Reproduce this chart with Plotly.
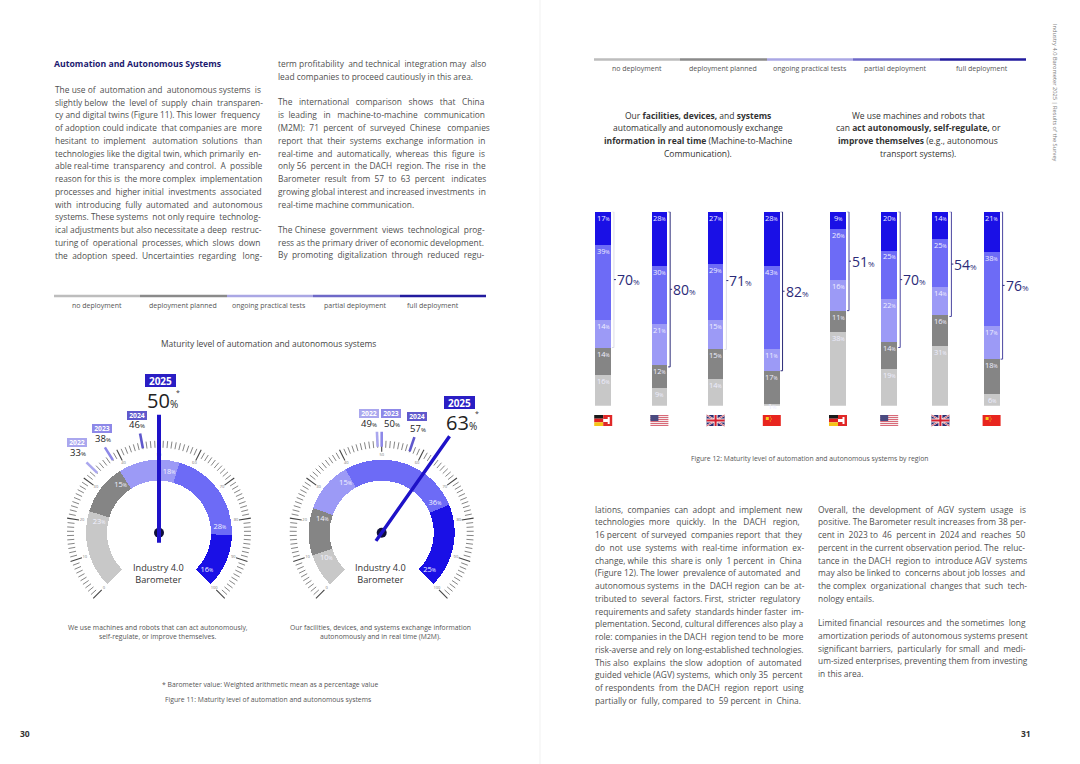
import plotly.graph_objects as go

# ---------- data ----------
REGIONS = ["DACH", "USA", "UK", "China"]
STATUS = ["no deployment", "deployment planned", "ongoing practical tests", "partial deployment", "full deployment"]

M2M_NONE = [16, 9, 14, 1]
M2M_PLANNED = [14, 12, 15, 17]
M2M_TESTS = [14, 21, 15, 11]
M2M_PARTIAL = [39, 30, 29, 43]
M2M_FULL = [17, 28, 27, 28]
M2M_USING = [70, 80, 71, 82]

AUTO_NONE = [38, 19, 31, 6]
AUTO_PLANNED = [11, 14, 16, 18]
AUTO_TESTS = [16, 22, 14, 17]
AUTO_PARTIAL = [26, 25, 25, 38]
AUTO_FULL = [9, 20, 14, 21]
AUTO_USING = [51, 70, 54, 76]

GAUGE_AUTO_SHARES = [23, 15, 18, 28, 16]
GAUGE_M2M_SHARES = [10, 14, 15, 36, 25]
YEARS = [2022, 2023, 2024, 2025]
GAUGE_AUTO_YEARS = [33, 38, 46, 50]
GAUGE_M2M_YEARS = [49, 50, 57, 63]

LEFT_A = [
    "The use of automation and autonomous systems is",
    "slightly below the level of supply chain transparen-",
    "cy and digital twins (Figure 11). This lower frequency",
    "of adoption could indicate that companies are more",
    "hesitant to implement automation solutions than",
    "technologies like the digital twin, which primarily en-",
    "able real-time transparency and control. A possible",
    "reason for this is the more complex implementation",
    "processes and higher initial investments associated",
    "with introducing fully automated and autonomous",
    "systems. These systems not only require technolog-",
    "ical adjustments but also necessitate a deep restruc-",
    "turing of operational processes, which slows down",
    "the adoption speed. Uncertainties regarding long-",
]
LEFT_B1 = [
    "term profitability and technical integration may also",
    "lead companies to proceed cautiously in this area.",
]
LEFT_B2 = [
    "The international comparison shows that China",
    "is leading in machine-to-machine communication",
    "(M2M): 71 percent of surveyed Chinese companies",
    "report that their systems exchange information in",
    "real-time and automatically, whereas this figure is",
    "only 56 percent in the DACH region. The rise in the",
    "Barometer result from 57 to 63 percent indicates",
    "growing global interest and increased investments in",
    "real-time machine communication.",
]
LEFT_B3 = [
    "The Chinese government views technological prog-",
    "ress as the primary driver of economic development.",
    "By promoting digitalization through reduced regu-",
]
RIGHT_A = [
    "lations, companies can adopt and implement new",
    "technologies more quickly. In the DACH region,",
    "16 percent of surveyed companies report that they",
    "do not use systems with real-time information ex-",
    "change, while this share is only 1 percent in China",
    "(Figure 12). The lower prevalence of automated and",
    "autonomous systems in the DACH region can be at-",
    "tributed to several factors. First, stricter regulatory",
    "requirements and safety standards hinder faster im-",
    "plementation. Second, cultural differences also play a",
    "role: companies in the DACH region tend to be more",
    "risk-averse and rely on long-established technologies.",
    "This also explains the slow adoption of automated",
    "guided vehicle (AGV) systems, which only 35 percent",
    "of respondents from the DACH region report using",
    "partially or fully, compared to 59 percent in China.",
]
RIGHT_B1 = [
    "Overall, the development of AGV system usage is",
    "positive. The Barometer result increases from 38 per-",
    "cent in 2023 to 46 percent in 2024 and reaches 50",
    "percent in the current observation period. The reluc-",
    "tance in the DACH region to introduce AGV systems",
    "may also be linked to concerns about job losses and",
    "the complex organizational changes that such tech-",
    "nology entails.",
]
RIGHT_B2 = [
    "Limited financial resources and the sometimes long",
    "amortization periods of autonomous systems present",
    "significant barriers, particularly for small and medi-",
    "um-sized enterprises, preventing them from investing",
    "in this area.",
]

# ---------- styles ----------
W, H = 1080, 764
FONT = "Open Sans"
SEG = ["#c8c8c8", "#858585", "#9c9af6", "#6d6bf6", "#1a10e6"]
RULE = ["#bdbdbd", "#8a8a8a", "#aaa7e4", "#6e69c8", "#221b9e"]
YEAR_COL = ["#aaa7ee", "#8d88e8", "#5f58cc", "#2a1ec4"]
NAVY = "#2b2a78"
BODY = "#505050"
BODY_SIZE = 8.4

CW = dict(zip("abcdefghijklmnopqrstuvwxyz",
              [.556, .613, .476, .613, .561, .339, .548, .613, .253, .253, .525, .253, .930,
               .613, .604, .613, .613, .408, .477, .353, .613, .501, .778, .524, .504, .468]))


def text_w(s, size):
    t = 0
    for c in s:
        if c in CW:
            t += CW[c]
        elif c == " ":
            t += .26
        elif c.isdigit():
            t += .572
        elif c.isupper():
            t += .65
        elif c in "-(),.:":
            t += .3
        else:
            t += .5
    return t * size


def justify(s, width, size):
    words = s.split(" ")
    gaps = len(words) - 1
    extra = width - text_w(s, size)
    n = int(round(max(extra, 0) / (.26 * size)))
    out = words[0]
    for i, w in enumerate(words[1:]):
        k = (n * (i + 1)) // gaps - (n * i) // gaps
        out += " " + "\u00a0" * k + w
    return out


def px(x):
    return x / W


def py(y):
    return 1 - y / H


def pct(v, small):
    return f'{v}<span style="font-size:{small}px">%</span>'


annos = []
shapes = []


def note(x, y, text, size=8, color=BODY, xa="center", ya="middle", **kw):
    annos.append(dict(x=px(x), y=py(y), xref="paper", yref="paper", text=text, showarrow=False,
                      xanchor=xa, yanchor=ya, font=dict(family=FONT, size=size, color=color),
                      borderpad=0, borderwidth=0, **kw))


def rect(x0, y0, x1, y1, color):
    shapes.append(dict(type="rect", xref="paper", yref="paper", x0=px(x0), x1=px(x1),
                       y0=py(y0), y1=py(y1), fillcolor=color, line=dict(width=0)))


def seg(x0, y0, x1, y1, color, w):
    shapes.append(dict(type="line", xref="paper", yref="paper", x0=px(x0), x1=px(x1),
                       y0=py(y0), y1=py(y1), line=dict(color=color, width=w)))


def column(lines, x0, x1, y0, last_free=False):
    for i, s in enumerate(lines):
        free = last_free and i == len(lines) - 1
        t = s if free else justify(s, x1 - x0, BODY_SIZE)
        note(x0, y0 + i * 12.75, t, size=BODY_SIZE, xa="left")


fig = go.Figure()

# ---------- page ----------
rect(539, 0, 541, H, "#f8f8f8")
note(54, 64, "<b>Automation and Autonomous Systems</b>", size=8.7, color="#1c1a70", xa="left")
column(LEFT_A, 54.5, 262, 89.3)
column(LEFT_B1, 278, 486, 64, True)
column(LEFT_B2, 278, 486, 102, True)
column(LEFT_B3, 278, 486, 229.3)
column(RIGHT_A, 594.5, 803, 509)
column(RIGHT_B1, 817.5, 1026, 509, True)
column(RIGHT_B2, 817.5, 1026, 622.7, True)
note(25, 733, "<b>30</b>", size=8.5, color="#333")
note(1026, 733, "<b>31</b>", size=8.5, color="#333")
note(1055, 93, "Industry 4.0 Barometer 2025 | Results of the Survey", size=5.7, color="#777", textangle=90)

# ---------- status rules ----------
for edges, yrule, ylab, cents in [
    ([54, 140, 227, 313, 400, 486], 296, 305, [97, 183, 269, 355, 433]),
    ([594, 680, 767, 853, 940, 1026], 59.5, 68, [637, 723, 810, 895, 982]),
]:
    for i, name in enumerate(STATUS):
        rect(edges[i], yrule - 1.2, edges[i + 1], yrule + 1.2, RULE[i])
        note(cents[i], ylab, name, size=7, color="#555")

note(268, 343, "Maturity level of automation and autonomous systems", size=8.45, color="#444")

# ---------- headings of right page ----------
HEAD_A = ["Our <b>facilities, devices,</b> and <b>systems</b>", "automatically and autonomously exchange",
          "<b>information in real time</b> (Machine-to-Machine", "Communication)."]
HEAD_B = ["We use machines and robots that", "can <b>act autonomously, self-regulate,</b> or",
          "<b>improve themselves</b> (e.g., autonomous", "transport systems)."]
for cx, lines in [(698, HEAD_A), (918, HEAD_B)]:
    for i, s in enumerate(lines):
        note(cx, 115 + i * 12.7, s, size=8.5, color="#333")

# ---------- captions ----------
note(158, 627, "We use machines and robots that can act autonomously,", size=6.8, color="#555")
note(158, 636, "self-regulate, or improve themselves.", size=6.8, color="#555")
note(380, 627, "Our facilities, devices, and systems exchange information", size=6.8, color="#555")
note(380, 636, "autonomously and in real time (M2M).", size=6.8, color="#555")
note(270, 684, "* Barometer value: Weighted arithmetic mean as a percentage value", size=6.8, color="#555")
note(268, 699, "Figure 11: Maturity level of automation and autonomous systems", size=6.8, color="#555")
note(810, 458, "Figure 12: Maturity level of automation and autonomous systems by region", size=6.8, color="#555")

# ---------- stacked bars ----------
BAR_TOP, BAR_BOTTOM = 211.7, 405.7
groups = [
    dict(ax="x2", c0=603.2, step=56.2, bw=15.5,
         vals=[M2M_NONE, M2M_PLANNED, M2M_TESTS, M2M_PARTIAL, M2M_FULL], using=M2M_USING,
         br=["#dcdce8", NAVY, "#dcdce8", NAVY]),
    dict(ax="x3", c0=838.0, step=51.2, bw=16,
         vals=[AUTO_NONE, AUTO_PLANNED, AUTO_TESTS, AUTO_PARTIAL, AUTO_FULL], using=AUTO_USING,
         br=["#4a46a0", "#4a46a0", "#4a46a0", "#4a46a0"]),
]
for g in groups:
    xs = list(range(len(REGIONS)))
    w = g["bw"] / g["step"]
    for i, name in enumerate(STATUS):
        fig.add_trace(go.Bar(x=xs, y=g["vals"][i], width=w, name=name, marker=dict(color=SEG[i], line=dict(width=0)),
                             xaxis=g["ax"], yaxis="y2", showlegend=False, hovertext=REGIONS))
    for k, region in enumerate(REGIONS):
        top = 0
        for i in range(len(STATUS)):
            v = g["vals"][i][k]
            top += v
            if v < 4:
                annos.append(dict(x=k, y=top, xref=g["ax"], yref="y2", text=pct(v, 5), showarrow=False,
                                  yanchor="middle", yshift=-2, font=dict(family=FONT, size=7.5, color="#eeeeff")))
            else:
                annos.append(dict(x=k, y=top, xref=g["ax"], yref="y2", text=pct(v, 5), showarrow=False,
                                  yanchor="top", borderpad=0, font=dict(family=FONT, size=7.5, color="#eeeeff")))
        low = 100 - g["using"][k]
        bx = k + w / 2 + 3 / g["step"]
        hook = 2 / g["step"]
        fig.add_trace(go.Scatter(x=[bx - hook, bx, bx, bx - hook], y=[100, 100, low, low], mode="lines",
                                 line=dict(color=g["br"][k], width=1), xaxis=g["ax"], yaxis="y2",
                                 showlegend=False, hoverinfo="skip"))
        mid = (100 + low) / 2
        fig.add_trace(go.Scatter(x=[bx, bx + hook], y=[mid, mid], mode="lines",
                                 line=dict(color=NAVY, width=1), xaxis=g["ax"], yaxis="y2",
                                 showlegend=False, hoverinfo="skip"))
        annos.append(dict(x=k + w / 2, y=mid, xref=g["ax"], yref="y2", text=pct(g["using"][k], 8), showarrow=False,
                          xanchor="left", xshift=4, yanchor="middle",
                          font=dict(family=FONT, size=14, color=NAVY)))


# ---------- flags ----------
def flag(kind, cx):
    x0, x1, y0, y1 = cx - 9, cx + 9, 415, 426
    if kind == "DACH":
        h = (y1 - y0) / 3
        rect(x0, y0, cx, y0 + h, "#1a1a1a")
        rect(x0, y0 + h, cx, y0 + 2 * h, "#e02020")
        rect(x0, y0 + 2 * h, cx, y1, "#f5c518")
        rect(cx, y0, x1, y1, "#e02828")
        rect(cx, y0 + 4, x1 - 3, y0 + 7, "#ffffff")
        rect(x1 - 4.5, y0 + 2, x1 - 2.5, y1 - 2, "#ffffff")
    elif kind == "USA":
        n = 11
        for j in range(n):
            rect(x0, y0 + j, x1, y0 + j + 1, "#d86a78" if j % 2 == 0 else "#f4e8ea")
        rect(x0, y0, cx - 1, y0 + 6, "#4a4a80")
    elif kind == "UK":
        rect(x0, y0, x1, y1, "#2a2a70")
        seg(x0, y0, x1, y1, "#f0f0f0", 2)
        seg(x0, y1, x1, y0, "#f0f0f0", 2)
        seg(x0, y0, x1, y1, "#d82030", .7)
        seg(x0, y1, x1, y0, "#d82030", .7)
        rect(cx - 2, y0, cx + 2, y1, "#f0f0f0")
        rect(x0, y0 + 3.5, x1, y1 - 3.5, "#f0f0f0")
        rect(cx - 1, y0, cx + 1, y1, "#d82030")
        rect(x0, y0 + 4.5, x1, y1 - 4.5, "#d82030")
    else:
        rect(x0, y0, x1, y1, "#e8251f")
        rect(x0 + 3, y0 + 2, x0 + 6, y0 + 5, "#f5d020")
        rect(x0 + 7, y0 + 1.5, x0 + 8, y0 + 2.5, "#f5d020")
        rect(x0 + 8, y0 + 3.5, x0 + 9, y0 + 4.5, "#f5d020")
        rect(x0 + 7, y0 + 5.5, x0 + 8, y0 + 6.5, "#f5d020")


for g in groups:
    for k, region in enumerate(REGIONS):
        flag(region, g["c0"] + k * g["step"])

# ---------- gauges ----------
SWEEP = 270 / 100  # degrees per percentage point
R_MAX = 130
RING_IN, RING_W = 52, 21
gauges = [
    dict(sub="polar", cx=159, cy=532.7, shares=GAUGE_AUTO_SHARES, years=GAUGE_AUTO_YEARS, nw=4),
    dict(sub="polar2", cx=381.7, cy=532.7, shares=GAUGE_M2M_SHARES, years=GAUGE_M2M_YEARS, nw=3.4),
]
layout_polar = {}
for g in gauges:
    s = g["sub"]
    layout_polar[s] = dict(
        domain=dict(x=[px(g["cx"] - R_MAX), px(g["cx"] + R_MAX)], y=[py(g["cy"] + R_MAX), py(g["cy"] - R_MAX)]),
        bgcolor="rgba(0,0,0,0)",
        radialaxis=dict(visible=False, range=[0, R_MAX]),
        angularaxis=dict(visible=False, rotation=225, direction="clockwise", thetaunit="degrees"),
    )
    # tick ring
    mr, mt, Mr, Mt = [], [], [], []
    for v in range(0, 101):
        t = v * SWEEP
        if v % 10 == 0:
            Mr += [81, 93, None]
            Mt += [t, t, None]
        else:
            mr += [85, 92, None]
            mt += [t, t, None]
    fig.add_trace(go.Scatterpolar(r=mr, theta=mt, mode="lines", line=dict(color="#666", width=.8), subplot=s,
                                  showlegend=False, hoverinfo="skip"))
    fig.add_trace(go.Scatterpolar(r=Mr, theta=Mt, mode="lines", line=dict(color="#444", width=1.1), subplot=s,
                                  showlegend=False, hoverinfo="skip"))
    fig.add_trace(go.Scatterpolar(r=[78] * 11, theta=[v * SWEEP for v in range(0, 101, 10)],
                                  text=[str(v) for v in range(0, 101, 10)], mode="text",
                                  textfont=dict(family=FONT, size=4, color="#777"), subplot=s,
                                  showlegend=False, hoverinfo="skip"))
    # ring segments
    start = 0
    for i, v in enumerate(g["shares"]):
        fig.add_trace(go.Barpolar(r=[RING_W], base=[RING_IN], theta=[(start + v / 2) * SWEEP], width=[v * SWEEP],
                                  marker=dict(color=SEG[i], line=dict(width=0)), subplot=s, name=STATUS[i],
                                  showlegend=False))
        start += v
        fig.add_trace(go.Scatterpolar(r=[61], theta=[(start - 2.5) * SWEEP], text=[pct(v, 5)], mode="text",
                                      textfont=dict(family=FONT, size=7.5, color="#f2f2ff"), subplot=s,
                                      showlegend=False, hoverinfo="skip"))
    # previous-year markers
    for yr, val, col in zip(YEARS[:-1], g["years"][:-1], YEAR_COL[:-1]):
        fig.add_trace(go.Scatterpolar(r=[86, 101], theta=[val * SWEEP] * 2, mode="lines",
                                      line=dict(color=col, width=2.6), subplot=s, name=str(yr),
                                      showlegend=False))
    # needle and hub
    cur = g["years"][-1] * SWEEP
    fig.add_trace(go.Scatterpolar(r=[0], theta=[0], mode="markers", marker=dict(color="#10103a", size=10),
                                  subplot=s, showlegend=False, hoverinfo="skip"))
    fig.add_trace(go.Scatterpolar(r=[10, 0, 118], theta=[cur + 180, cur, cur], mode="lines",
                                  line=dict(color="#1e12c8", width=g["nw"]), subplot=s, name="2025",
                                  showlegend=False))
    note(g["cx"] - 1, 573, "Industry 4.0<br>Barometer", size=9.2, color="#333")

# year labels
YEAR_POS = [
    [(77, 443, 78, 453), (101.5, 428, 102.5, 438), (136.5, 415, 137, 425), (160.5, 380.5, 162, 400)],
    [(368.5, 413, 369, 423), (391, 413, 392, 423), (416.5, 417, 418, 428), (459, 402.5, 461, 422)],
]
for g, pos in zip(gauges, YEAR_POS):
    for i, (yr, val, col, p) in enumerate(zip(YEARS, g["years"], YEAR_COL, pos)):
        big = i == 3
        note(p[0], p[1], f"<b>{yr}</b>", size=10 if big else 6.8, color="#ffffff",
             bgcolor=col, width=31 if big else 20, height=13 if big else 8.5)
        note(p[2], p[3], pct(val, 10 if big else 6), size=20 if big else 9.5, color="#222")
note(178, 392, "*", size=7, color="#333")
note(477, 413, "*", size=7, color="#333")

# ---------- layout ----------
L = dict(
    width=W, height=H, margin=dict(l=0, r=0, t=0, b=0, pad=0, autoexpand=False),
    paper_bgcolor="#ffffff", plot_bgcolor="rgba(0,0,0,0)", barmode="stack", showlegend=False,
    annotations=annos, shapes=shapes,
    yaxis2=dict(domain=[py(BAR_BOTTOM), py(BAR_TOP)], range=[0, 100], visible=False, fixedrange=True, anchor="x2"),
    xaxis2=dict(domain=[px(603.2 - 28.1), px(603.2 + 3.5 * 56.2)], range=[-.5, 3.5], visible=False, anchor="y2",
                fixedrange=True),
    xaxis3=dict(domain=[px(838 - 25.6), px(838 + 3.5 * 51.2)], range=[-.5, 3.5], visible=False, anchor="y2",
                fixedrange=True),
    **layout_polar,
)
fig.update_layout(**L)
fig.write_html("out.html", config={"displayModeBar": False}, post_script="document.body.style.margin='0';")
